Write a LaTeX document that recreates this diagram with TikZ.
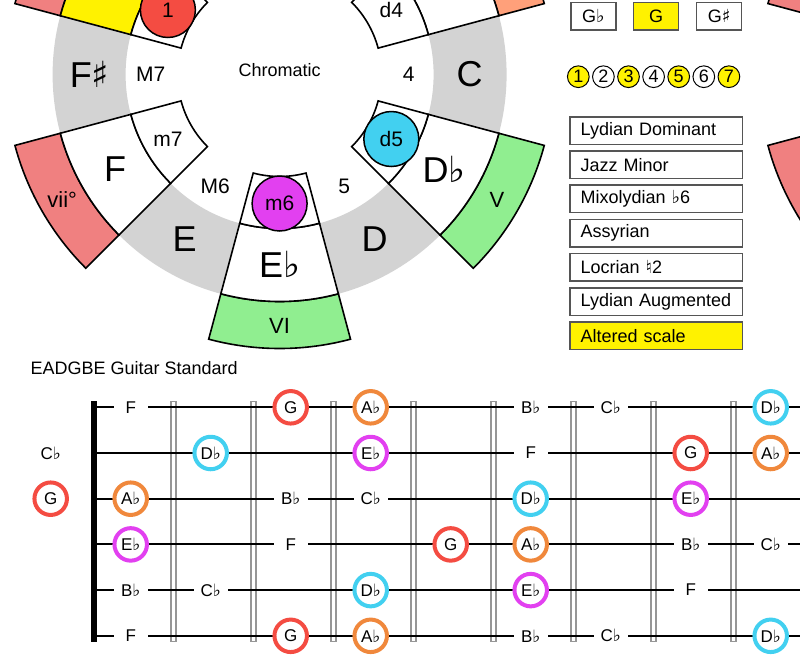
\documentclass[tikz,border=0pt]{standalone}
\usepackage{fontspec}
\setmainfont{Liberation Sans}
\newfontfamily\symfont{DejaVu Sans}
\usetikzlibrary{positioning}

\newcommand{\flatsign}{{\symfont ♭}}
\newcommand{\sharpsign}{{\symfont ♯}}
\newcommand{\natsign}{{\symfont ♮}}

\definecolor{ringgray}{RGB}{211,211,211}
\definecolor{dimred}{RGB}{240,128,128}
\definecolor{augsalmon}{RGB}{255,160,122}
\definecolor{majgreen}{RGB}{144,238,144}
\definecolor{rootred}{RGB}{244,76,66}
\definecolor{secorange}{RGB}{240,136,60}
\definecolor{fifthcyan}{RGB}{66,208,240}
\definecolor{sixthmag}{RGB}{226,64,240}
\definecolor{boxgray}{RGB}{85,85,85}
\definecolor{fretgray}{RGB}{150,150,150}

\tikzstyle{seg} = [
draw=black,
line width=1.6pt,
fill=white
]
\tikzstyle{notename} = [
font=\fontsize{36}{40}\selectfont
]
\tikzstyle{intname} = [
font=\fontsize{21}{24}\selectfont
]
\tikzstyle{intdot} = [
circle,
draw=black,
line width=1.5pt,
minimum size=55pt,
inner sep=0pt,
font=\fontsize{21}{24}\selectfont
]
\tikzstyle{degname} = [
font=\fontsize{22}{26}\selectfont
]
\tikzstyle{keybox} = [
rectangle,
draw=boxgray,
line width=1.5pt,
minimum width=45pt,
minimum height=27.5pt,
fill=white,
font=\fontsize{18}{20}\selectfont
]
\tikzstyle{stepdot} = [
circle,
draw=black,
line width=1pt,
minimum size=21.7pt,
inner sep=0pt,
fill=white,
font=\fontsize{18}{20}\selectfont
]
\tikzstyle{modebox} = [
rectangle,
draw=boxgray,
line width=1.5pt,
text width=151pt,
inner xsep=10.6pt,
minimum height=27.5pt,
align=left,
fill=white,
font=\fontsize{18}{20}\selectfont
]
\tikzstyle{fretnote} = [
circle,
line width=4pt,
minimum size=32.5pt,
inner sep=0pt,
fill=white,
font=\fontsize{17}{20}\selectfont
]
\tikzstyle{plainnote} = [
fill=white,
minimum width=34pt,
inner sep=1pt,
font=\fontsize{17}{20}\selectfont
]
\tikzstyle{rootnote} = [fretnote, draw=rootred]
\tikzstyle{secnote} = [fretnote, draw=secorange]
\tikzstyle{fifnote} = [fretnote, draw=fifthcyan]
\tikzstyle{sixnote} = [fretnote, draw=sixthmag]
\tikzstyle{fret} = [
draw=fretgray,
line width=1.2pt
]
\tikzstyle{gstring} = [
draw=black,
line width=2pt
]

% annular piece: style, middle angle, inner radius, outer radius
\newcommand{\ringpart}[4]{%
\path[#1] (#2-15:#3) arc[start angle=#2-15, end angle=#2+15, radius=#3]
-- (#2+15:#4) arc[start angle=#2+15, end angle=#2-15, radius=#4] -- cycle;}

\begin{document}
\begin{tikzpicture}[
x=1pt,
y=-1pt
]

\useasboundingbox (0,0) rectangle (800,657);
\clip (0,0) rectangle (800,657);
\fill[white] (0,0) rectangle (800,657);

% chromatic circle
\begin{scope}[shift={(279.6,74.5)}, y=1pt]
\fill[ringgray, even odd rule] (0,0) circle[radius=227] (0,0) circle[radius=154];

\ringpart{seg, fill=dimred}{150}{227}{274}
\ringpart{seg, fill=augsalmon}{30}{227}{274}
\ringpart{seg, fill=majgreen}{-30}{227}{274}
\ringpart{seg, fill=majgreen}{-90}{227}{274}
\ringpart{seg, fill=dimred}{-150}{227}{274}

\ringpart{seg, fill=yellow}{150}{154}{227}
\ringpart{seg}{30}{154}{227}
\ringpart{seg}{-30}{154}{227}
\ringpart{seg}{-90}{154}{227}
\ringpart{seg}{-150}{154}{227}

\ringpart{seg}{150}{102}{154}
\ringpart{seg}{30}{102}{154}
\ringpart{seg}{-30}{102}{154}
\ringpart{seg}{-90}{102}{154}
\ringpart{seg}{-150}{102}{154}

\node (chromatic) [font=\fontsize{18}{20}\selectfont] at (0,4) {Chromatic};

\node (fsharp) [notename] at (180:190) {F\sharpsign};
\node (fnat) [notename] at (-150:190) {F};
\node (enat) [notename] at (-120:190) {E};
\node (eflat) [notename] at (-90:190) {E\flatsign};
\node (dnat) [notename] at (-60:190) {D};
\node (dflat) [notename] at (-30:190) {D\flatsign};
\node (cnat) [notename] at (0:190) {C};

\node (majseven) [intname] at (180:129) {M7};
\node (minseven) [intname] at (-150:129) {m7};
\node (majsix) [intname] at (-120:129) {M6};
\node (perfive) [intname] at (-60:129) {5};
\node (perfour) [intname] at (0:129) {4};
\node (dimfour) [intname] at (30:129) {d4};

\node (root) [intdot, fill=rootred] at (150:129) {1};
\node (dimfive) [intdot, fill=fifthcyan] at (-30:129) {d5};
\node (minsix) [intdot, fill=sixthmag] at (-90:129) {m6};

\node (seventh) [degname] at (-150:251) {vii°};
\node (fifth) [degname] at (-30:251) {V};
\node (sixth) [degname] at (-90:251) {VI};
\end{scope}

% next circle, cut by the border
\begin{scope}[shift={(1032.6,74.5)}, y=1pt]
\ringpart{seg, fill=dimred}{150}{227}{274}
\ringpart{seg, fill=dimred}{-150}{227}{274}
\end{scope}

% key and scale panel
\begin{scope}[node distance=62.9pt]
\node (keyg) [keybox, fill=yellow] at (656.2,16.2) {G};
\node (keygflat) [keybox, left of=keyg] {G\flatsign};
\node (keygsharp) [keybox, right of=keyg] {G\sharpsign};
\end{scope}

\begin{scope}[node distance=25.1pt]
\node (step1) [stepdot, fill=yellow] at (578.3,76.7) {1};
\node (step2) [stepdot, right of=step1] {2};
\node (step3) [stepdot, fill=yellow, right of=step2] {3};
\node (step4) [stepdot, right of=step3] {4};
\node (step5) [stepdot, fill=yellow, right of=step4] {5};
\node (step6) [stepdot, right of=step5] {6};
\node (step7) [stepdot, fill=yellow, right of=step6] {7};
\end{scope}

\begin{scope}[node distance=34.2pt]
\node (lyddom) [modebox] at (656.2,130.5) {Lydian Dominant};
\node (jazzmin) [modebox, below of=lyddom] {Jazz Minor};
\node (mixoflat) [modebox, below of=jazzmin] {Mixolydian \flatsign 6};
\node (assyrian) [modebox, below of=mixoflat] {Assyrian};
\node (locnat) [modebox, below of=assyrian] {Locrian \natsign 2};
\node (lydaug) [modebox, below of=locnat] {Lydian Augmented};
\node (altered) [modebox, fill=yellow, below of=lydaug] {Altered scale};
\end{scope}

% fretboard
\node (tuning) [anchor=west, font=\fontsize{18}{20}\selectfont] at (27,368) {EADGBE Guitar Standard};

\foreach \fx in {173.5,253.5,...,733.5}
\draw[fret] (\fx-2.5,401.5) rectangle (\fx+2.5,641.5);

\foreach \sy [count=\si] in {407.3,453,498.7,544.4,590.1,635.8} {
\coordinate (str\si) at (94,\sy);
\coordinate (strend\si) at (805,\sy);
\draw[gstring] (str\si) -- (strend\si);
}
\draw[line width=6pt] (94,401) -- (94,642);

% high e
\node (s1f1) [plainnote] at (130.7,407.3) {F};
\node (s1f3) [rootnote] at (290.7,407.3) {G};
\node (s1f4) [secnote] at (370.7,407.3) {A\flatsign};
\node (s1f6) [plainnote] at (530.7,407.3) {B\flatsign};
\node (s1f7) [plainnote] at (610.7,407.3) {C\flatsign};
\node (s1f9) [fifnote] at (770.7,407.3) {D\flatsign};

% b
\node (s2f0) [plainnote] at (50.7,453) {C\flatsign};
\node (s2f2) [fifnote] at (210.7,453) {D\flatsign};
\node (s2f4) [sixnote] at (370.7,453) {E\flatsign};
\node (s2f6) [plainnote] at (530.7,453) {F};
\node (s2f8) [rootnote] at (690.7,453) {G};
\node (s2f9) [secnote] at (770.7,453) {A\flatsign};

% g
\node (s3f0) [rootnote] at (50.7,498.7) {G};
\node (s3f1) [secnote] at (130.7,498.7) {A\flatsign};
\node (s3f3) [plainnote] at (290.7,498.7) {B\flatsign};
\node (s3f4) [plainnote] at (370.7,498.7) {C\flatsign};
\node (s3f6) [fifnote] at (530.7,498.7) {D\flatsign};
\node (s3f8) [sixnote] at (690.7,498.7) {E\flatsign};

% d
\node (s4f1) [sixnote] at (130.7,544.4) {E\flatsign};
\node (s4f3) [plainnote] at (290.7,544.4) {F};
\node (s4f5) [rootnote] at (450.7,544.4) {G};
\node (s4f6) [secnote] at (530.7,544.4) {A\flatsign};
\node (s4f8) [plainnote] at (690.7,544.4) {B\flatsign};
\node (s4f9) [plainnote] at (770.7,544.4) {C\flatsign};

% a
\node (s5f1) [plainnote] at (130.7,590.1) {B\flatsign};
\node (s5f2) [plainnote] at (210.7,590.1) {C\flatsign};
\node (s5f4) [fifnote] at (370.7,590.1) {D\flatsign};
\node (s5f6) [sixnote] at (530.7,590.1) {E\flatsign};
\node (s5f8) [plainnote] at (690.7,590.1) {F};

% low e
\node (s6f1) [plainnote] at (130.7,635.8) {F};
\node (s6f3) [rootnote] at (290.7,635.8) {G};
\node (s6f4) [secnote] at (370.7,635.8) {A\flatsign};
\node (s6f6) [plainnote] at (530.7,635.8) {B\flatsign};
\node (s6f7) [plainnote] at (610.7,635.8) {C\flatsign};
\node (s6f9) [fifnote] at (770.7,635.8) {D\flatsign};

\end{tikzpicture}
\end{document}
